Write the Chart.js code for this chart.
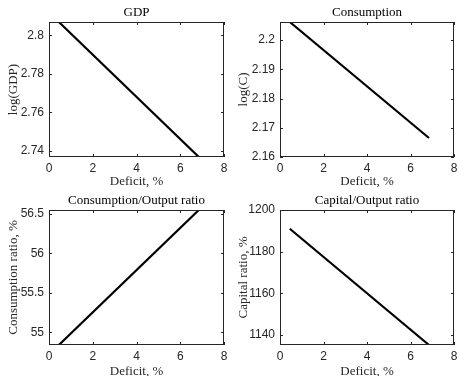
<!DOCTYPE html>
<html>
<head>
<meta charset="utf-8">
<script src="https://cdn.jsdelivr.net/npm/chart.js@4"></script>
<style>
  body { margin: 0; background: #fff; }
  .panel { position: absolute; width: 230px; height: 188px; }
</style>
</head>
<body>
<div class="panel" style="left:0;top:0"><canvas id="c1" width="230" height="188"></canvas></div>
<div class="panel" style="left:230px;top:0"><canvas id="c2" width="230" height="188"></canvas></div>
<div class="panel" style="left:0;top:188px"><canvas id="c3" width="230" height="188"></canvas></div>
<div class="panel" style="left:230px;top:188px"><canvas id="c4" width="230" height="188"></canvas></div>
<script>
// data (straight lines, end points)
const deficit = [0.45, 6.85];
const logGdp = [2.807, 2.7367];
const logCons = [2.2062, 2.1665];
const consRatio = [54.84, 56.55];
const capRatio = [1191, 1135.1];

const xTicks = [0, 2, 4, 6, 8];
const gdpTicks = [2.74, 2.76, 2.78, 2.8];
const consTicks = [2.16, 2.17, 2.18, 2.19, 2.2];
const consRatioTicks = [55, 55.5, 56, 56.5];
const capRatioTicks = [1140, 1160, 1180, 1200];

const axisCol = '#262626';
const serif = "'Liberation Serif', 'DejaVu Serif', serif";
const sans = "'Liberation Sans', Arial, sans-serif";

// matlab style box with inward tick marks
const boxTicks = {
    id: 'boxTicks',
    afterDatasetsDraw(chart) {
        const { ctx, chartArea: a, scales: { x, y } } = chart;
        ctx.save();
        ctx.strokeStyle = axisCol;
        ctx.lineWidth = 1;
        ctx.strokeRect(a.left + 0.5, a.top + 0.5, a.right - a.left - 1, a.bottom - a.top - 1);
        ctx.beginPath();
        x.ticks.forEach(t => {
            const px = Math.round(x.getPixelForValue(t.value)) + 0.5;
            ctx.moveTo(px, a.bottom); ctx.lineTo(px, a.bottom - 3);
            ctx.moveTo(px, a.top); ctx.lineTo(px, a.top + 3);
        });
        y.ticks.forEach(t => {
            const py = Math.round(y.getPixelForValue(t.value)) + 0.5;
            ctx.moveTo(a.left, py); ctx.lineTo(a.left + 3, py);
            ctx.moveTo(a.right, py); ctx.lineTo(a.right - 3, py);
        });
        ctx.stroke();
        ctx.restore();
    }
};

// title centred over the plot box, like matlab
const panelTitle = {
    id: 'panelTitle',
    afterDraw(chart, args, opts) {
        const { ctx, chartArea: a } = chart;
        ctx.save();
        ctx.fillStyle = '#000';
        ctx.font = '13px ' + serif;
        ctx.textAlign = 'center';
        ctx.textBaseline = 'middle';
        ctx.fillText(opts.text, (a.left + a.right) / 2, a.top - 9);
        ctx.restore();
    }
};

function makeChart(id, title, yLabel, values, yMin, yMax, yTicks, yWidth, xTitlePad) {
    return new Chart(document.getElementById(id), {
        type: 'line',
        data: {
            datasets: [{
                data: deficit.map((d, i) => ({ x: d, y: values[i] })),
                borderColor: '#000',
                borderWidth: 2.2,
                pointRadius: 0,
                tension: 0
            }]
        },
        options: {
            responsive: false,
            animation: false,
            devicePixelRatio: 1,
            layout: { padding: { left: 0, right: 6, top: 22, bottom: 0 } },
            plugins: {
                legend: { display: false },
                tooltip: { enabled: false },
                title: { display: false },
                panelTitle: { text: title }
            },
            scales: {
                x: {
                    type: 'linear',
                    min: 0, max: 8,
                    afterBuildTicks: s => { s.ticks = xTicks.map(v => ({ value: v })); },
                    afterFit: s => { s.height = 31; s.paddingLeft = 0; s.paddingRight = 0; },
                    grid: { display: false, drawTicks: false },
                    border: { display: false },
                    ticks: { color: axisCol, font: { family: sans, size: 12 }, padding: 4, maxRotation: 0 },
                    title: {
                        display: true, text: 'Deficit, %', color: axisCol,
                        font: { family: serif, size: 13, lineHeight: 1 },
                        padding: { top: 0, bottom: xTitlePad }
                    }
                },
                y: {
                    type: 'linear',
                    min: yMin, max: yMax,
                    afterBuildTicks: s => { s.ticks = yTicks.map(v => ({ value: v })); },
                    afterFit: s => { s.width = yWidth; s.paddingTop = 0; s.paddingBottom = 0; },
                    grid: { display: false, drawTicks: false },
                    border: { display: false },
                    ticks: {
                        color: axisCol, font: { family: sans, size: 12 }, padding: 5,
                        callback: v => String(+v.toFixed(4))
                    },
                    title: {
                        display: true, text: yLabel, color: axisCol,
                        font: { family: serif, size: 13 }, padding: { top: 6, bottom: 0 }
                    }
                }
            }
        },
        plugins: [boxTicks, panelTitle]
    });
}

makeChart('c1', 'GDP', 'log(GDP)', logGdp, 2.7367, 2.807, gdpTicks, 49, 0);
makeChart('c2', 'Consumption', 'log(C)', logCons, 2.16, 2.2062, consTicks, 50, 0);
makeChart('c3', 'Consumption/Output ratio', 'Consumption ratio, %', consRatio, 54.84, 56.55, consRatioTicks, 49, -2);
makeChart('c4', 'Capital/Output ratio', 'Capital ratio, %', capRatio, 1135.1, 1200, capRatioTicks, 50, -2);
</script>
</body>
</html>
